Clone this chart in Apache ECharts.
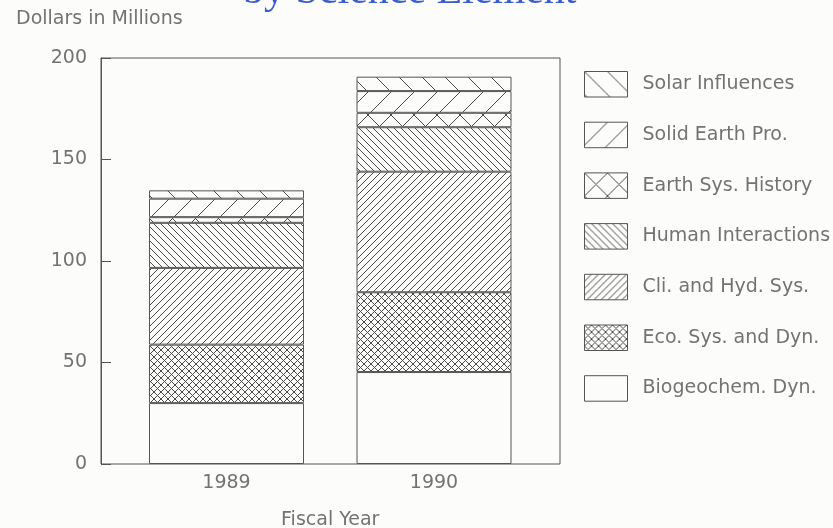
<!DOCTYPE html>
<html>
<head>
<meta charset="utf-8">
<script src="https://cdn.jsdelivr.net/npm/echarts@6/dist/echarts.min.js"></script>
<style>
  html, body { margin: 0; padding: 0; background: #fcfcfa; }
  #main { width: 833px; height: 528px; }
</style>
</head>
<body>
<div id="main"></div>
<script>
// data
const years = ['1989', '1990'];
const biogeochem = [30.0, 45.3];
const ecoSys = [28.8, 39.3];
const cliHyd = [37.8, 59.4];
const humanInt = [22.2, 21.9];
const earthHist = [2.8, 7.1];
const solidEarth = [9.1, 10.7];
const solarInf = [4.1, 7.1];
const yTicks = [0, 50, 100, 150, 200];

const FONT = "'DejaVu Sans', sans-serif";
const INK = '#555';
const TXT = '#737373';

// hatch pattern tile: dirs is a string of '/' and '\\'
function hatch(s, dirs) {
  const c = document.createElement('canvas');
  c.width = s; c.height = s;
  const ctx = c.getContext('2d');
  ctx.fillStyle = '#fcfcfa';
  ctx.fillRect(0, 0, s, s);
  ctx.strokeStyle = '#4a4a4a';
  ctx.lineWidth = 1;
  for (const d of dirs) {
    ctx.beginPath();
    if (d === '/') {
      ctx.moveTo(-1, s + 1); ctx.lineTo(s + 1, -1);
      ctx.moveTo(-1, 1); ctx.lineTo(1, -1);
      ctx.moveTo(s - 1, s + 1); ctx.lineTo(s + 1, s - 1);
    } else {
      ctx.moveTo(-1, -1); ctx.lineTo(s + 1, s + 1);
      ctx.moveTo(s - 1, -1); ctx.lineTo(s + 1, 1);
      ctx.moveTo(-1, s - 1); ctx.lineTo(1, s + 1);
    }
    ctx.stroke();
  }
  return { image: c, repeat: 'repeat' };
}

const parts = [
  { name: 'Biogeochem. Dyn.', data: biogeochem, fill: '#fcfcfa' },
  { name: 'Eco. Sys. and Dyn.', data: ecoSys, fill: hatch(7, '/\\') },
  { name: 'Cli. and Hyd. Sys.', data: cliHyd, fill: hatch(7, '/') },
  { name: 'Human Interactions', data: humanInt, fill: hatch(7, '\\') },
  { name: 'Earth Sys. History', data: earthHist, fill: hatch(23, '/\\') },
  { name: 'Solid Earth Pro.', data: solidEarth, fill: hatch(23, '/') },
  { name: 'Solar Influences', data: solarInf, fill: hatch(23, '\\') }
];

const chart = echarts.init(document.getElementById('main'));
chart.setOption({
  backgroundColor: '#fcfcfa',
  animation: false,
  title: {
    text: 'by Science Element',
    left: 238,
    top: -34,
    textStyle: { fontFamily: "'Liberation Serif', serif", fontSize: 42, fontWeight: 'normal', color: '#3a5ccc' }
  },
  graphic: [{
    type: 'text', left: 16, top: 10,
    style: { text: 'Dollars in Millions', font: '19px ' + FONT, fill: TXT }
  }],
  legend: {
    orient: 'vertical',
    left: 584,
    top: 71,
    padding: 0,
    itemWidth: 43,
    itemHeight: 25.5,
    itemGap: 24.2,
    icon: 'rect',
    data: parts.map(p => p.name).reverse(),
    itemStyle: { borderColor: INK, borderWidth: 1 },
    textStyle: { fontFamily: FONT, fontSize: 19, lineHeight: 20, color: TXT, padding: [0, 0, 0, 10] }
  },
  grid: [
    { left: 101, right: 273, top: 58, bottom: 64, outerBoundsMode: 'none', show: true, borderColor: INK, borderWidth: 1, backgroundColor: 'transparent' },
    { left: 122.75, right: 295.25, top: 58, bottom: 64, outerBoundsMode: 'none' }
  ],
  xAxis: [
    { gridIndex: 0, type: 'category', data: years, show: false },
    {
      gridIndex: 1, type: 'category', data: years,
      axisLine: { show: false }, axisTick: { show: false },
      axisLabel: { margin: 10, fontFamily: FONT, fontSize: 19, color: TXT },
      name: 'Fiscal Year', nameLocation: 'middle', nameGap: 47,
      nameTextStyle: { fontFamily: FONT, fontSize: 19, color: TXT }
    }
  ],
  yAxis: [
    {
      gridIndex: 0, type: 'value', min: yTicks[0], max: yTicks[yTicks.length - 1], interval: 50,
      axisLine: { show: true, lineStyle: { color: INK } },
      axisTick: { show: true, inside: true, length: 10, lineStyle: { color: INK } },
      splitLine: { show: false },
      axisLabel: { margin: 14, fontFamily: FONT, fontSize: 19, color: TXT }
    },
    { gridIndex: 1, type: 'value', min: 0, max: 200, show: false }
  ],
  series: parts.map(p => ({
    name: p.name,
    type: 'bar',
    stack: 'total',
    xAxisIndex: 1,
    yAxisIndex: 1,
    barWidth: 155,
    data: p.data,
    itemStyle: { color: p.fill, borderColor: INK, borderWidth: 1 }
  }))
});
</script>
</body>
</html>
